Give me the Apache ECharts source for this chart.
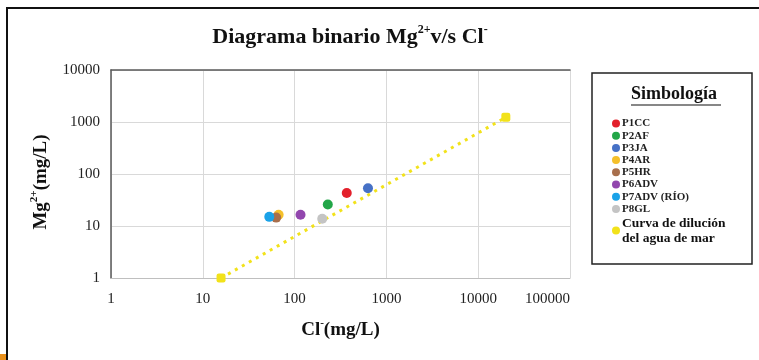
<!DOCTYPE html>
<html>
<head>
<meta charset="utf-8">
<script src="https://cdn.jsdelivr.net/npm/echarts@6/dist/echarts.min.js"></script>
<style>
  html, body { margin: 0; padding: 0; background: #fff; }
  #chart { width: 759px; height: 360px; }
</style>
</head>
<body>
<div id="chart"></div>
<script>
// Sampling points: chloride vs magnesium (mg/L)
const stations = ['P1CC', 'P2AF', 'P3JA', 'P4AR', 'P5HR', 'P6ADV', 'P7ADV (RÍO)', 'P8GL'];
const chloride = [370, 230, 630, 67, 63, 116, 53, 200];
const magnesium = [43, 26, 53, 16.5, 14.5, 16.5, 15, 13.8];
const stationColors = ['#e3202b', '#22a648', '#4671c6', '#f5c02a', '#a86f4c', '#9247ae', '#1aa2e8', '#c4c4c4'];

// Seawater dilution curve end points
const dilutionName = 'Curva de dilución\ndel agua de mar';
const dilutionCl = [15.8, 20000];
const dilutionMg = [1, 1230];

const xTicks = [1, 10, 100, 1000, 10000, 100000];
const yTicks = [1, 10, 100, 1000, 10000];

const serif = '"Liberation Serif", "DejaVu Serif", serif';
const chart = echarts.init(document.getElementById('chart'));

const series = stations.map((name, i) => ({
  name: name,
  type: 'scatter',
  symbol: 'circle',
  symbolSize: 10,
  itemStyle: { color: stationColors[i], opacity: 1 },
  data: [[chloride[i], magnesium[i]]],
  z: 4
}));

series.push({
  name: dilutionName,
  type: 'line',
  symbol: 'roundRect',
  symbolSize: 9,
  itemStyle: { color: '#f2e21a' },
  lineStyle: { color: '#f2e21a', width: 3, type: [3, 5] },
  data: dilutionCl.map((c, i) => [c, dilutionMg[i]]),
  z: 3
});

const legendData = stations.map(n => ({ name: n, icon: 'circle' }));
legendData.push({
  name: dilutionName,
  icon: 'circle',
  textStyle: { fontSize: 13.5, lineHeight: 15, fontWeight: 'bold', fontFamily: serif, color: '#111' }
});

const nameRich = {
  a: { fontFamily: serif, fontSize: 19, fontWeight: 'bold', color: '#111', lineHeight: 24 },
  s: { fontFamily: serif, fontSize: 11, fontWeight: 'bold', color: '#111', verticalAlign: 'top', lineHeight: 24 }
};

chart.setOption({
  animation: false,
  backgroundColor: '#fff',
  title: {
    text: '{a|Diagrama binario Mg}{s|2+}{a|v/s Cl}{s|-}',
    left: 345,
    top: 19,
    textAlign: 'center',
    textStyle: {
      rich: {
        a: { fontFamily: serif, fontSize: 22, fontWeight: 'bold', color: '#111', lineHeight: 26 },
        s: { fontFamily: serif, fontSize: 12, fontWeight: 'bold', color: '#111', verticalAlign: 'top', lineHeight: 26 }
      }
    }
  },
  grid: { left: 111, right: 189, top: 70, bottom: 82 },
  legend: {
    orient: 'vertical',
    left: 607,
    top: 113,
    itemWidth: 8,
    itemHeight: 8,
    itemGap: 1.2,
    data: legendData,
    textStyle: { fontFamily: serif, fontSize: 11, fontWeight: 'bold', color: '#222', padding: [0, 0, 0, -3] }
  },
  xAxis: [{
    type: 'log',
    logBase: 10,
    min: xTicks[0],
    max: xTicks[xTicks.length - 1],
    name: '{a|Cl}{s|-}{a|(mg/L)}',
    nameLocation: 'middle',
    nameGap: 40,
    nameTextStyle: { rich: nameRich },
    axisLine: { show: true, lineStyle: { color: '#bfbfbf', width: 1 } },
    axisTick: { show: false },
    axisLabel: {
      fontFamily: serif, fontSize: 15, color: '#222', margin: 14,
      alignMaxLabel: 'right',
      formatter: v => String(Math.round(v))
    },
    splitLine: { show: true, lineStyle: { color: '#d9d9d9', width: 1 } }
  }, {
    type: 'log',
    logBase: 10,
    min: xTicks[0],
    max: xTicks[xTicks.length - 1],
    position: 'top',
    axisLine: { show: true, lineStyle: { color: '#595959', width: 1.5 } },
    axisTick: { show: false },
    axisLabel: { show: false },
    splitLine: { show: false }
  }],
  yAxis: {
    type: 'log',
    logBase: 10,
    min: yTicks[0],
    max: yTicks[yTicks.length - 1],
    name: '{a|Mg}{s|2+}{a|(mg/L)}',
    nameLocation: 'middle',
    nameRotate: 90,
    nameGap: 58,
    nameTextStyle: { rich: nameRich, padding: [0, 16, 0, 0] },
    axisLine: { show: true, lineStyle: { color: '#595959', width: 1.5 } },
    axisTick: { show: false },
    axisLabel: {
      fontFamily: serif, fontSize: 15, color: '#222', margin: 11,
      formatter: v => String(Math.round(v))
    },
    splitLine: { show: true, lineStyle: { color: '#d9d9d9', width: 1 } }
  },
  graphic: [
    // outer frame
    { type: 'rect', shape: { x: 7, y: 8, width: 820, height: 420 }, style: { fill: 'none', stroke: '#111', lineWidth: 2 }, silent: true, z: 10 },
    // corner tab
    { type: 'rect', shape: { x: 0, y: 354, width: 6, height: 6 }, style: { fill: '#e8901a' }, silent: true, z: 10 },
    // legend frame
    { type: 'rect', shape: { x: 592, y: 73, width: 160, height: 191 }, style: { fill: 'none', stroke: '#222', lineWidth: 1.5 }, silent: true, z: 10 },
    // legend heading
    {
      type: 'text', left: 631, top: 85, z: 10, silent: true,
      style: { text: 'Simbología', fontFamily: serif, fontSize: 18, fontWeight: 'bold', fill: '#111' }
    },
    { type: 'line', shape: { x1: 631, y1: 105, x2: 721, y2: 105 }, style: { stroke: '#111', lineWidth: 1.2 }, silent: true, z: 10 }
  ],
  series: series
});
</script>
</body>
</html>
